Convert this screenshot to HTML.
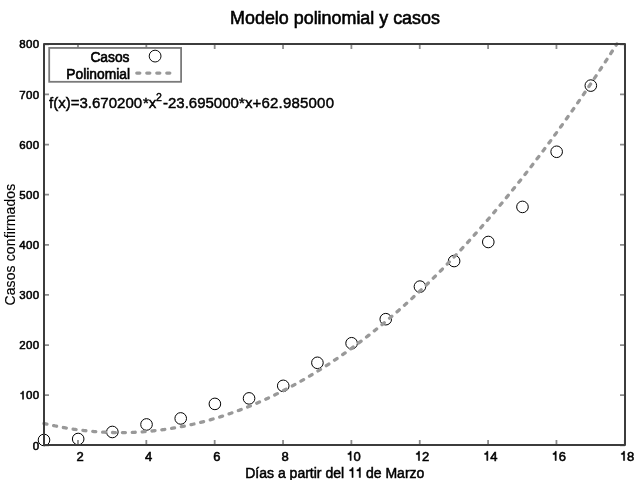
<!DOCTYPE html><html><head><meta charset="utf-8"><style>html,body{margin:0;padding:0;background:#fff;overflow:hidden}svg{display:block;will-change:transform}text{font-family:"Liberation Sans",sans-serif;fill:#000;stroke:#000;stroke-width:0.6px}</style></head><body>
<svg width="640" height="480" viewBox="0 0 640 480">
<text x="335" y="23.7" font-size="17.9" text-anchor="middle">Modelo polinomial y casos</text>
<circle cx="44.00" cy="439.99" r="5.8" fill="none" stroke="#000" stroke-width="1"/>
<circle cx="78.18" cy="438.99" r="5.8" fill="none" stroke="#000" stroke-width="1"/>
<circle cx="112.35" cy="431.97" r="5.8" fill="none" stroke="#000" stroke-width="1"/>
<circle cx="146.53" cy="424.45" r="5.8" fill="none" stroke="#000" stroke-width="1"/>
<circle cx="180.71" cy="418.43" r="5.8" fill="none" stroke="#000" stroke-width="1"/>
<circle cx="214.88" cy="403.90" r="5.8" fill="none" stroke="#000" stroke-width="1"/>
<circle cx="249.06" cy="398.38" r="5.8" fill="none" stroke="#000" stroke-width="1"/>
<circle cx="283.24" cy="385.85" r="5.8" fill="none" stroke="#000" stroke-width="1"/>
<circle cx="317.41" cy="362.80" r="5.8" fill="none" stroke="#000" stroke-width="1"/>
<circle cx="351.59" cy="343.25" r="5.8" fill="none" stroke="#000" stroke-width="1"/>
<circle cx="385.76" cy="319.19" r="5.8" fill="none" stroke="#000" stroke-width="1"/>
<circle cx="419.94" cy="286.61" r="5.8" fill="none" stroke="#000" stroke-width="1"/>
<circle cx="454.12" cy="261.04" r="5.8" fill="none" stroke="#000" stroke-width="1"/>
<circle cx="488.29" cy="241.99" r="5.8" fill="none" stroke="#000" stroke-width="1"/>
<circle cx="522.47" cy="206.91" r="5.8" fill="none" stroke="#000" stroke-width="1"/>
<circle cx="556.65" cy="151.77" r="5.8" fill="none" stroke="#000" stroke-width="1"/>
<circle cx="590.82" cy="85.60" r="5.8" fill="none" stroke="#000" stroke-width="1"/>
<polyline points="44.00,423.47 45.43,423.81 46.86,424.14 48.30,424.47 49.73,424.79 51.16,425.10 52.59,425.41 54.03,425.71 55.46,426.01 56.89,426.30 58.32,426.58 59.75,426.85 61.19,427.12 62.62,427.39 64.05,427.64 65.48,427.89 66.91,428.14 68.35,428.37 69.78,428.60 71.21,428.83 72.64,429.04 74.08,429.26 75.51,429.46 76.94,429.66 78.37,429.85 79.80,430.04 81.24,430.21 82.67,430.39 84.10,430.55 85.53,430.71 86.96,430.86 88.40,431.01 89.83,431.15 91.26,431.28 92.69,431.41 94.13,431.53 95.56,431.65 96.99,431.75 98.42,431.86 99.85,431.95 101.29,432.04 102.72,432.12 104.15,432.20 105.58,432.26 107.01,432.33 108.45,432.38 109.88,432.43 111.31,432.48 112.74,432.51 114.18,432.54 115.61,432.57 117.04,432.58 118.47,432.59 119.90,432.60 121.34,432.60 122.77,432.59 124.20,432.57 125.63,432.55 127.06,432.52 128.50,432.49 129.93,432.45 131.36,432.40 132.79,432.35 134.23,432.29 135.66,432.22 137.09,432.15 138.52,432.07 139.95,431.98 141.39,431.89 142.82,431.79 144.25,431.68 145.68,431.57 147.11,431.45 148.55,431.33 149.98,431.20 151.41,431.06 152.84,430.91 154.28,430.76 155.71,430.61 157.14,430.44 158.57,430.27 160.00,430.10 161.44,429.91 162.87,429.72 164.30,429.53 165.73,429.33 167.16,429.12 168.60,428.90 170.03,428.68 171.46,428.45 172.89,428.22 174.33,427.98 175.76,427.73 177.19,427.47 178.62,427.21 180.05,426.95 181.49,426.67 182.92,426.39 184.35,426.11 185.78,425.81 187.21,425.51 188.65,425.21 190.08,424.90 191.51,424.58 192.94,424.25 194.38,423.92 195.81,423.58 197.24,423.24 198.67,422.89 200.10,422.53 201.54,422.16 202.97,421.79 204.40,421.42 205.83,421.03 207.26,420.64 208.70,420.25 210.13,419.85 211.56,419.44 212.99,419.02 214.43,418.60 215.86,418.17 217.29,417.74 218.72,417.29 220.15,416.85 221.59,416.39 223.02,415.93 224.45,415.46 225.88,414.99 227.31,414.51 228.75,414.02 230.18,413.53 231.61,413.03 233.04,412.52 234.48,412.01 235.91,411.49 237.34,410.97 238.77,410.43 240.20,409.90 241.64,409.35 243.07,408.80 244.50,408.24 245.93,407.68 247.37,407.11 248.80,406.53 250.23,405.95 251.66,405.36 253.09,404.76 254.53,404.16 255.96,403.55 257.39,402.93 258.82,402.31 260.25,401.68 261.69,401.04 263.12,400.40 264.55,399.75 265.98,399.10 267.42,398.44 268.85,397.77 270.28,397.10 271.71,396.42 273.14,395.73 274.58,395.04 276.01,394.34 277.44,393.63 278.87,392.92 280.30,392.20 281.74,391.47 283.17,390.74 284.60,390.00 286.03,389.26 287.47,388.50 288.90,387.75 290.33,386.98 291.76,386.21 293.19,385.43 294.63,384.65 296.06,383.86 297.49,383.06 298.92,382.26 300.35,381.45 301.79,380.63 303.22,379.81 304.65,378.98 306.08,378.15 307.52,377.30 308.95,376.46 310.38,375.60 311.81,374.74 313.24,373.87 314.68,373.00 316.11,372.12 317.54,371.23 318.97,370.33 320.40,369.43 321.84,368.53 323.27,367.61 324.70,366.69 326.13,365.77 327.57,364.84 329.00,363.90 330.43,362.95 331.86,362.00 333.29,361.04 334.73,360.08 336.16,359.11 337.59,358.13 339.02,357.14 340.45,356.15 341.89,355.16 343.32,354.15 344.75,353.14 346.18,352.13 347.62,351.10 349.05,350.07 350.48,349.04 351.91,348.00 353.34,346.95 354.78,345.89 356.21,344.83 357.64,343.76 359.07,342.69 360.50,341.61 361.94,340.52 363.37,339.42 364.80,338.32 366.23,337.22 367.67,336.10 369.10,334.98 370.53,333.86 371.96,332.72 373.39,331.58 374.83,330.44 376.26,329.29 377.69,328.13 379.12,326.96 380.55,325.79 381.99,324.61 383.42,323.43 384.85,322.24 386.28,321.04 387.72,319.84 389.15,318.63 390.58,317.41 392.01,316.19 393.44,314.96 394.88,313.72 396.31,312.48 397.74,311.23 399.17,309.97 400.60,308.71 402.04,307.44 403.47,306.17 404.90,304.89 406.33,303.60 407.77,302.30 409.20,301.00 410.63,299.70 412.06,298.38 413.49,297.06 414.93,295.74 416.36,294.40 417.79,293.06 419.22,291.72 420.66,290.36 422.09,289.01 423.52,287.64 424.95,286.27 426.38,284.89 427.82,283.50 429.25,282.11 430.68,280.72 432.11,279.31 433.54,277.90 434.98,276.48 436.41,275.06 437.84,273.63 439.27,272.19 440.71,270.75 442.14,269.30 443.57,267.85 445.00,266.38 446.43,264.91 447.87,263.44 449.30,261.96 450.73,260.47 452.16,258.98 453.59,257.47 455.03,255.97 456.46,254.45 457.89,252.93 459.32,251.41 460.76,249.87 462.19,248.33 463.62,246.79 465.05,245.23 466.48,243.67 467.92,242.11 469.35,240.54 470.78,238.96 472.21,237.37 473.64,235.78 475.08,234.18 476.51,232.58 477.94,230.97 479.37,229.35 480.81,227.73 482.24,226.10 483.67,224.46 485.10,222.82 486.53,221.17 487.97,219.51 489.40,217.85 490.83,216.18 492.26,214.50 493.69,212.82 495.13,211.13 496.56,209.44 497.99,207.74 499.42,206.03 500.86,204.31 502.29,202.59 503.72,200.87 505.15,199.13 506.58,197.39 508.02,195.65 509.45,193.89 510.88,192.13 512.31,190.37 513.74,188.59 515.18,186.82 516.61,185.03 518.04,183.24 519.47,181.44 520.91,179.64 522.34,177.82 523.77,176.01 525.20,174.18 526.63,172.35 528.07,170.51 529.50,168.67 530.93,166.82 532.36,164.97 533.79,163.10 535.23,161.23 536.66,159.36 538.09,157.47 539.52,155.59 540.96,153.69 542.39,151.79 543.82,149.88 545.25,147.97 546.68,146.05 548.12,144.12 549.55,142.18 550.98,140.24 552.41,138.30 553.84,136.34 555.28,134.38 556.71,132.42 558.14,130.44 559.57,128.47 561.01,126.48 562.44,124.49 563.87,122.49 565.30,120.48 566.73,118.47 568.17,116.45 569.60,114.43 571.03,112.40 572.46,110.36 573.89,108.32 575.33,106.27 576.76,104.21 578.19,102.15 579.62,100.08 581.06,98.00 582.49,95.92 583.92,93.83 585.35,91.74 586.78,89.63 588.22,87.52 589.65,85.41 591.08,83.29 592.51,81.16 593.94,79.03 595.38,76.89 596.81,74.74 598.24,72.59 599.67,70.43 601.11,68.26 602.54,66.09 603.97,63.91 605.40,61.72 606.83,59.53 608.27,57.33 609.70,55.12 611.13,52.91 612.56,50.69 614.00,48.47 615.43,46.24 616.86,44.00" fill="none" stroke="#999" stroke-width="3.3" stroke-dasharray="3 6.89" stroke-linecap="round"/>
<path d="M77.98 445.00v-5M77.98 44.00v5M146.33 445.00v-5M146.33 44.00v5M214.68 445.00v-5M214.68 44.00v5M283.04 445.00v-5M283.04 44.00v5M351.39 445.00v-5M351.39 44.00v5M419.74 445.00v-5M419.74 44.00v5M488.09 445.00v-5M488.09 44.00v5M556.45 445.00v-5M556.45 44.00v5M624.80 445.00v-5M624.80 44.00v5M44.00 445.30h5M625.00 445.30h-5M44.00 395.18h5M625.00 395.18h-5M44.00 345.05h5M625.00 345.05h-5M44.00 294.93h5M625.00 294.93h-5M44.00 244.80h5M625.00 244.80h-5M44.00 194.68h5M625.00 194.68h-5M44.00 144.55h5M625.00 144.55h-5M44.00 94.42h5M625.00 94.42h-5M44.00 44.30h5M625.00 44.30h-5" stroke="#000" stroke-opacity="0.45" stroke-width="1.8" fill="none"/>
<rect x="44.00" y="44.00" width="581.00" height="401.00" fill="none" stroke="#3c3c3c" stroke-width="2" stroke-linejoin="round"/>
<text x="76.56" y="460.50" font-size="13" style="stroke-width:0.55px">2</text>
<text x="144.91" y="460.50" font-size="13" style="stroke-width:0.55px">4</text>
<text x="213.27" y="460.50" font-size="13" style="stroke-width:0.55px">6</text>
<text x="281.62" y="460.50" font-size="13" style="stroke-width:0.55px">8</text>
<path transform="translate(346.36 460.50) scale(0.01300 -0.01300)" d="M370 0H285V470H118V548C210 555 272 590 296 706H370Z" fill="#000" stroke="#000" stroke-width="42.3"/><text x="353.59" y="460.50" font-size="13" style="stroke-width:0.55px">0</text>
<path transform="translate(414.71 460.50) scale(0.01300 -0.01300)" d="M370 0H285V470H118V548C210 555 272 590 296 706H370Z" fill="#000" stroke="#000" stroke-width="42.3"/><text x="421.94" y="460.50" font-size="13" style="stroke-width:0.55px">2</text>
<path transform="translate(483.06 460.50) scale(0.01300 -0.01300)" d="M370 0H285V470H118V548C210 555 272 590 296 706H370Z" fill="#000" stroke="#000" stroke-width="42.3"/><text x="490.29" y="460.50" font-size="13" style="stroke-width:0.55px">4</text>
<path transform="translate(551.42 460.50) scale(0.01300 -0.01300)" d="M370 0H285V470H118V548C210 555 272 590 296 706H370Z" fill="#000" stroke="#000" stroke-width="42.3"/><text x="558.65" y="460.50" font-size="13" style="stroke-width:0.55px">6</text>
<path transform="translate(619.77 460.50) scale(0.01300 -0.01300)" d="M370 0H285V470H118V548C210 555 272 590 296 706H370Z" fill="#000" stroke="#000" stroke-width="42.3"/><text x="627.00" y="460.50" font-size="13" style="stroke-width:0.55px">8</text>
<text x="32.82" y="450.10" font-size="11.5" style="stroke-width:0.55px">0</text>
<path transform="translate(19.27 399.27) scale(0.01150 -0.01150)" d="M370 0H285V470H118V548C210 555 272 590 296 706H370Z" fill="#000" stroke="#000" stroke-width="47.8"/><text x="26.05" y="399.27" font-size="11.5" style="stroke-width:0.55px">0</text><text x="32.82" y="399.27" font-size="11.5" style="stroke-width:0.55px">0</text>
<text x="19.27" y="349.15" font-size="11.5" style="stroke-width:0.55px">2</text><text x="26.05" y="349.15" font-size="11.5" style="stroke-width:0.55px">0</text><text x="32.82" y="349.15" font-size="11.5" style="stroke-width:0.55px">0</text>
<text x="19.27" y="299.02" font-size="11.5" style="stroke-width:0.55px">3</text><text x="26.05" y="299.02" font-size="11.5" style="stroke-width:0.55px">0</text><text x="32.82" y="299.02" font-size="11.5" style="stroke-width:0.55px">0</text>
<text x="19.27" y="248.90" font-size="11.5" style="stroke-width:0.55px">4</text><text x="26.05" y="248.90" font-size="11.5" style="stroke-width:0.55px">0</text><text x="32.82" y="248.90" font-size="11.5" style="stroke-width:0.55px">0</text>
<text x="19.27" y="198.78" font-size="11.5" style="stroke-width:0.55px">5</text><text x="26.05" y="198.78" font-size="11.5" style="stroke-width:0.55px">0</text><text x="32.82" y="198.78" font-size="11.5" style="stroke-width:0.55px">0</text>
<text x="19.27" y="148.65" font-size="11.5" style="stroke-width:0.55px">6</text><text x="26.05" y="148.65" font-size="11.5" style="stroke-width:0.55px">0</text><text x="32.82" y="148.65" font-size="11.5" style="stroke-width:0.55px">0</text>
<text x="19.27" y="98.53" font-size="11.5" style="stroke-width:0.55px">7</text><text x="26.05" y="98.53" font-size="11.5" style="stroke-width:0.55px">0</text><text x="32.82" y="98.53" font-size="11.5" style="stroke-width:0.55px">0</text>
<text x="19.27" y="48.40" font-size="11.5" style="stroke-width:0.55px">8</text><text x="26.05" y="48.40" font-size="11.5" style="stroke-width:0.55px">0</text><text x="32.82" y="48.40" font-size="11.5" style="stroke-width:0.55px">0</text>
<text x="245.254" y="477.5" font-size="14" style="stroke-width:0.5px">Días a partir del </text>
<path transform="translate(347.96 477.50) scale(0.01400 -0.01400)" d="M370 0H285V470H118V548C210 555 272 590 296 706H370Z" fill="#000" stroke="#000" stroke-width="35.7"/><path transform="translate(355.25 477.50) scale(0.01400 -0.01400)" d="M370 0H285V470H118V548C210 555 272 590 296 706H370Z" fill="#000" stroke="#000" stroke-width="35.7"/>
<text x="362.098" y="477.5" font-size="14" style="stroke-width:0.5px;white-space:pre"> de Marzo</text>
<text transform="translate(14.9 305.5) rotate(-90)" font-size="13.9" letter-spacing="0.17" style="stroke-width:0.12px">Casos confirmados</text>
<rect x="49.2" y="47.95" width="131.9" height="33.85" fill="#fff" stroke="#7a7a7a" stroke-width="1.8"/>
<text x="129.5" y="61.9" font-size="13.8" text-anchor="end">Casos</text>
<text x="130" y="78.75" font-size="13.8" text-anchor="end">Polinomial</text>
<circle cx="155.1" cy="56.1" r="5.9" fill="none" stroke="#000" stroke-width="0.95"/>
<path d="M136.8 73.1H170" stroke="#999" stroke-width="3.3" stroke-dasharray="3 7" stroke-linecap="round"/>
<text x="49.1" y="107.6" font-size="15" style="stroke-width:0.45px">f(x)=3.670200</text>
<text x="142.9" y="107.6" font-size="15" style="stroke-width:0.45px">*x</text>
<text x="156.1" y="101.1" font-size="10.5" style="stroke-width:0.45px">2</text>
<text x="163.0" y="107.6" font-size="15" style="stroke-width:0.45px">-23.695000</text>
<text x="238.9" y="107.6" letter-spacing="0.19" font-size="15" style="stroke-width:0.45px">*x+62.985000</text>
</svg></body></html>
